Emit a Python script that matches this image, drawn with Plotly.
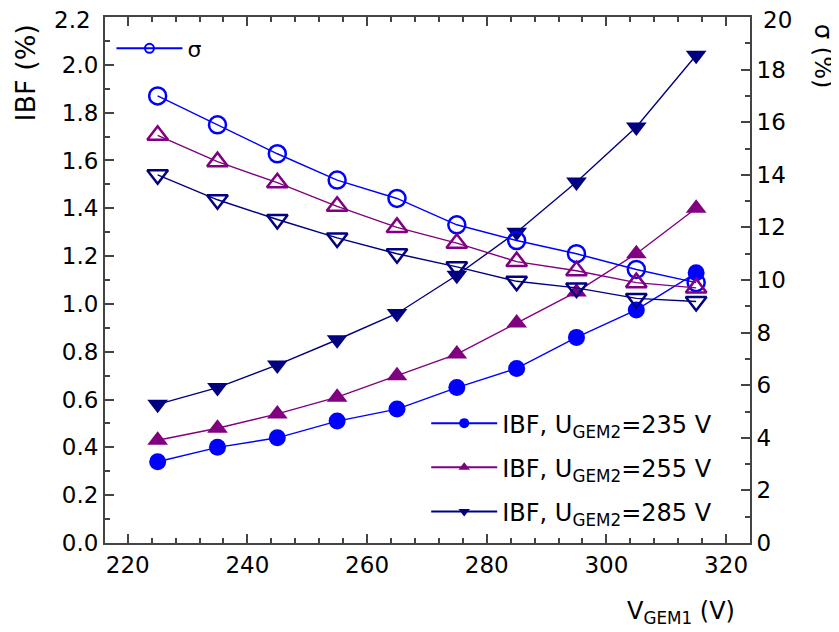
import plotly.graph_objects as go

# ---- data ----
v_gem1 = [225, 235, 245, 255, 265, 275, 285, 295, 305, 315]
ibf_235 = [0.34, 0.40, 0.44, 0.51, 0.56, 0.65, 0.73, 0.86, 0.975, 1.13]
ibf_255 = [0.43, 0.48, 0.54, 0.61, 0.70, 0.79, 0.92, 1.05, 1.21, 1.40]
ibf_285 = [0.58, 0.65, 0.745, 0.85, 0.96, 1.12, 1.30, 1.51, 1.74, 2.04]
sigma_235 = [17.0, 15.9, 14.8, 13.8, 13.1, 12.1, 11.5, 11.0, 10.4, 9.9]
sigma_255 = [15.5, 14.5, 13.7, 12.8, 12.0, 11.4, 10.7, 10.35, 9.9, 9.7]
sigma_285 = [14.0, 13.05, 12.3, 11.6, 11.0, 10.5, 9.95, 9.7, 9.3, 9.18]
legend_labels = ["IBF, U<sub>GEM2</sub>=235 V", "IBF, U<sub>GEM2</sub>=255 V", "IBF, U<sub>GEM2</sub>=285 V"]
sigma_label = "σ"
ibf_ticks = [0.0, 0.2, 0.4, 0.6, 0.8, 1.0, 1.2, 1.4, 1.6, 1.8, 2.0]
sigma_ticks = [0, 2, 4, 6, 8, 10, 12, 14, 16, 18]
ibf_top_label = "2.2"
sigma_top_label = "20"

BLUE = "#0000FF"
PURPLE = "#800080"
NAVY = "#000080"
FONT = "DejaVu Sans"

fig = go.Figure()

# sigma (open markers, right axis)
for ys, col, sym, sz in [(sigma_235, BLUE, "circle-open", 17),
                         (sigma_255, PURPLE, "triangle-up-open", 18),
                         (sigma_285, NAVY, "triangle-down-open", 18)]:
    fig.add_trace(go.Scatter(x=v_gem1, y=ys, yaxis="y2", mode="lines+markers",
                             line=dict(color=col, width=1.4),
                             marker=dict(symbol=sym, size=sz, color=col, line=dict(width=2.5, color=col)),
                             showlegend=False))

# IBF (filled markers, left axis)
for ys, col, sym, sz in [(ibf_235, BLUE, "circle", 17),
                         (ibf_255, PURPLE, "triangle-up", 18),
                         (ibf_285, NAVY, "triangle-down", 18)]:
    fig.add_trace(go.Scatter(x=v_gem1, y=ys, mode="lines+markers",
                             line=dict(color=col, width=1.4),
                             marker=dict(symbol=sym, size=sz, color=col),
                             showlegend=False))

# legend-only entries
fig.add_trace(go.Scatter(x=[None], y=[None], mode="lines+markers", name=sigma_label,
                         line=dict(color=BLUE, width=2),
                         marker=dict(symbol="circle-open", size=9, color=BLUE, line=dict(width=2, color=BLUE)),
                         legend="legend"))
for i, (lab, col, sym) in enumerate(zip(legend_labels, [BLUE, PURPLE, NAVY],
                                        ["circle", "triangle-up", "triangle-down"])):
    fig.add_trace(go.Scatter(x=[None], y=[None], mode="lines+markers", name=lab,
                             line=dict(color=col, width=2),
                             marker=dict(symbol=sym, size=10, color=col),
                             legend="legend2", legendgroup=f"g{i}"))

axis_common = dict(showline=True, linecolor="#444", linewidth=2, showgrid=False, zeroline=False,
                   ticks="inside", tickcolor="#444", tickwidth=2, ticklen=9, automargin=False,
                   ticklabeloverflow="allow",
                   tickfont=dict(family=FONT, size=23, color="black"))
minor_common = dict(ticklen=5, ticks="inside", tickcolor="#444", tickwidth=2, tickmode="linear")

# the page body adds an 8px margin, so the figure is sized to fit inside the window
fig.update_layout(
    width=831, height=624,
    margin=dict(l=97, r=89, t=9, b=89),
    paper_bgcolor="white", plot_bgcolor="white",
    font=dict(family=FONT, size=22, color="black"),
    xaxis=dict(range=[216.2, 324], tickmode="linear", tick0=220, dtick=20, mirror="ticks",
               minor=dict(tick0=220, dtick=4, **minor_common), **axis_common),
    yaxis=dict(range=[0, 2.2], tickmode="array", tickvals=ibf_ticks,
               ticktext=[f"{t:.1f}" for t in ibf_ticks],
               minor=dict(tick0=0, dtick=0.1, **minor_common), **axis_common),
    yaxis2=dict(range=[0, 20], overlaying="y", side="right", tickmode="array", tickvals=sigma_ticks,
                ticktext=[str(t) for t in sigma_ticks],
                minor=dict(tick0=0, dtick=1, **minor_common), **axis_common),
    legend=dict(x=0.01, y=0.98, xanchor="left", yanchor="top", bgcolor="rgba(0,0,0,0)",
                font=dict(family=FONT, size=22), itemwidth=66),
    legend2=dict(x=0.498, y=0.017, xanchor="left", yanchor="bottom", bgcolor="rgba(0,0,0,0)",
                 font=dict(family=FONT, size=24), itemwidth=66, tracegroupgap=10),
    annotations=[
        dict(text=ibf_top_label, xref="paper", yref="paper", x=-0.018, y=0.9943, xanchor="right",
             yanchor="middle", showarrow=False, font=dict(family=FONT, size=23)),
        dict(text=sigma_top_label, xref="paper", yref="paper", x=1.017, y=0.9943, xanchor="left",
             yanchor="middle", showarrow=False, font=dict(family=FONT, size=23)),
        dict(text="IBF (%)", xref="paper", yref="paper", x=-0.123, y=0.99, xanchor="center",
             yanchor="top", textangle=-90, showarrow=False, font=dict(family=FONT, size=27)),
        dict(text="σ (%)", xref="paper", yref="paper", x=1.112, y=0.99, xanchor="center",
             yanchor="top", textangle=90, showarrow=False, font=dict(family=FONT, size=24)),
        dict(text="V<sub>GEM1</sub> (V)", xref="paper", yref="paper", x=0.893, y=-0.133,
             xanchor="center", yanchor="middle", showarrow=False, font=dict(family=FONT, size=24)),
    ],
)

fig.write_html("out.html")
